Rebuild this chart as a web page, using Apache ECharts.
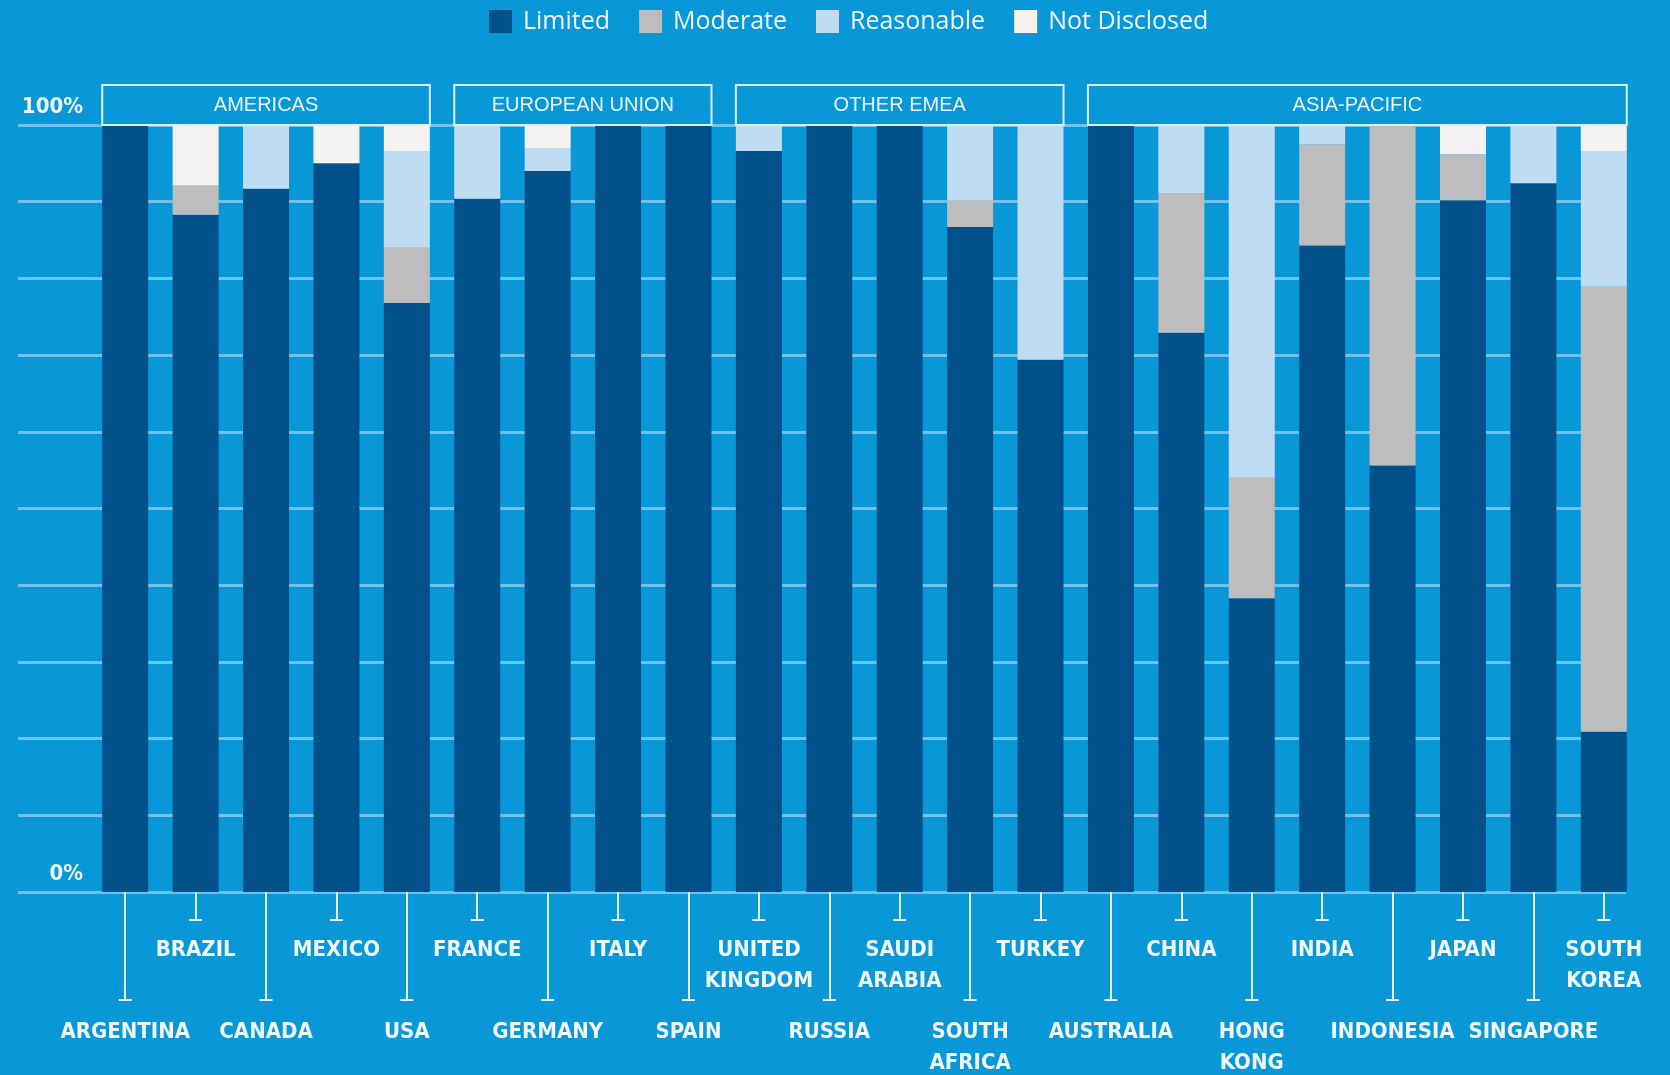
<!DOCTYPE html>
<html>
<head>
<meta charset="utf-8">
<script src="https://cdn.jsdelivr.net/npm/echarts@6/dist/echarts.min.js"></script>
<style>
html,body{margin:0;padding:0;background:#0898d7;}
#chart{width:1670px;height:1075px;}
</style>
</head>
<body>
<div id="chart"></div>
<script>
const categories = ['ARGENTINA','BRAZIL','CANADA','MEXICO','USA','FRANCE','GERMANY','ITALY','SPAIN','UNITED\nKINGDOM','RUSSIA','SAUDI\nARABIA','SOUTH\nAFRICA','TURKEY','AUSTRALIA','CHINA','HONG\nKONG','INDIA','INDONESIA','JAPAN','SINGAPORE','SOUTH\nKOREA'];
const limited      = [100, 88.3, 91.7, 95, 76.8, 90.4, 94, 100, 100, 96.6, 100, 100, 86.7, 69.4, 100, 72.9, 38.3, 84.3, 55.6, 90.2, 92.4, 20.9];
const moderate     = [0, 3.8, 0, 0, 7.2, 0, 0, 0, 0, 0, 0, 0, 3.5, 0, 0, 18.2, 15.7, 13.2, 44.4, 6.0, 0, 58.0];
const reasonable   = [0, 0, 8.3, 0, 12.6, 9.6, 2.9, 0, 0, 3.4, 0, 0, 9.8, 30.6, 0, 8.9, 46.0, 2.5, 0, 0, 7.6, 17.7];
const notDisclosed = [0, 7.9, 0, 5.0, 3.4, 0, 3.1, 0, 0, 0, 0, 0, 0, 0, 0, 0, 0, 0, 0, 3.8, 0, 3.4];
const seriesNames = ['Limited','Moderate','Reasonable','Not Disclosed'];
const regionNames = ['AMERICAS','EUROPEAN UNION','OTHER EMEA','ASIA-PACIFIC'];
const regionRanges = [[0,4],[5,8],[9,13],[14,21]];
const yTicks = [0, 100];

const COLORS = ['#03518a','#bdbdbd','#bfdcf2','#f3f2f1'];
const BAR_W = 46;
const COND = "'Liberation Sans Narrow','DejaVu Sans Condensed','Arial Narrow',sans-serif";
const TXT = '#eef7fc';

function labelFmt(v){
  return '{c| }\n{s| }\n' + v.split('\n').map(l => '{t|' + l + '}').join('\n');
}
function richFor(sp){
  return {
    c:{width:13,height:2,lineHeight:2,fontSize:1,backgroundColor:'#e6f3fb'},
    s:{height:sp,lineHeight:sp,fontSize:1},
    t:{fontSize:22,lineHeight:31,fontWeight:'bold',fontFamily:COND,color:TXT}
  };
}

const chart = echarts.init(document.getElementById('chart'));
const values = [limited, moderate, reasonable, notDisclosed];
const series = seriesNames.map((n,i)=>({
  name:n, type:'bar', stack:'total', barWidth:BAR_W,
  xAxisIndex:0, yAxisIndex:0,
  itemStyle:{color:COLORS[i]},
  data:values[i]
}));
series.push({
  type:'custom', xAxisIndex:0, yAxisIndex:0, z:5, silent:true,
  data: regionRanges,
  renderItem:function(params, api){
    const a = api.coord([api.value(0), 100]);
    const b = api.coord([api.value(1), 100]);
    const h = BAR_W/2;
    return {type:'group', children:[
      {type:'rect', shape:{x:a[0]-h, y:a[1]-40, width:b[0]-a[0]+2*h, height:40},
       style:{fill:'transparent', stroke:'#d6f0fc', lineWidth:2}},
      {type:'text', style:{text:regionNames[params.dataIndex], x:(a[0]+b[0])/2, y:a[1]-20,
       align:'center', verticalAlign:'middle', fill:'#e8f6fd', fontSize:20, fontFamily:"'Liberation Sans',Arial,sans-serif"}}
    ]};
  }
});

chart.setOption({
  backgroundColor:'#0898d7',
  animation:false,
  legend:{
    data:seriesNames, left:484, top:4, itemWidth:23, itemHeight:23, itemGap:29, icon:'rect',
    textStyle:{color:TXT, fontSize:25, fontFamily:"'Open Sans','Noto Sans',sans-serif", padding:[0,0,0,6]}
  },
  grid:[
    {left:90, right:31, top:125, bottom:183},
    {left:18, right:44, top:125, bottom:183}
  ],
  xAxis:[
    {type:'category', gridIndex:0, data:categories, position:'bottom',
     axisLine:{show:false},
     axisTick:{show:true, alignWithLabel:true, length:107, interval:(i)=>i%2===0, lineStyle:{color:'#e6f3fb', width:2}},
     axisLabel:{interval:(i)=>i%2===0, margin:107, formatter:labelFmt, rich:richFor(16)}},
    {type:'category', gridIndex:0, data:categories, position:'bottom',
     axisLine:{show:false},
     axisTick:{show:true, alignWithLabel:true, length:27, interval:(i)=>i%2===1, lineStyle:{color:'#e6f3fb', width:2}},
     axisLabel:{interval:(i)=>i%2===1, margin:27, formatter:labelFmt, rich:richFor(14)}},
    {type:'value', gridIndex:1, min:0, max:1, show:false}
  ],
  yAxis:[
    {type:'value', gridIndex:0, min:0, max:100, interval:100,
     axisLine:{show:false}, axisTick:{show:false}, splitLine:{show:false},
     axisLabel:{formatter:(v)=> yTicks.includes(v) ? v + '%' : '', margin:7, color:TXT, fontSize:22, fontWeight:'bold',
       fontFamily:COND, verticalAlign:'bottom', padding:[0,0,7,0]}},
    {type:'value', gridIndex:1, min:0, max:100, interval:10,
     axisLine:{show:false}, axisTick:{show:false}, axisLabel:{show:false},
     splitLine:{show:true, lineStyle:{color:'#6fc2ee', width:3}}}
  ],
  series:series
});
</script>
</body>
</html>
